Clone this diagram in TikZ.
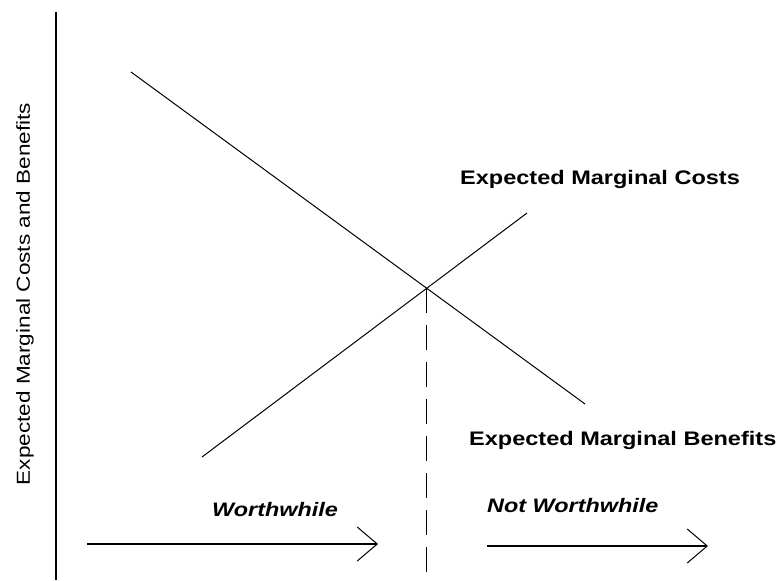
\documentclass[tikz,border=0pt]{standalone}
\usepackage{fontspec}
\usepackage{tikz}
\usetikzlibrary{arrows.meta}
\usetikzlibrary{positioning}
\newfontfamily\widesans[FakeStretch=1.2]{Liberation Sans}

\begin{document}
\begin{tikzpicture}[x=1pt,y=-1pt,
        curve/.style={line width=1pt},
        curvename/.style={inner sep=0pt,font=\widesans\fontsize{19.6}{23}\selectfont\bfseries},
        regionname/.style={inner sep=0pt,font=\widesans\fontsize{19.5}{23}\selectfont\bfseries\itshape},
        spanarrow/.style={line width=1.6pt,-{Straight Barb[length=20pt,width=34pt,line width=1pt]}}]
        \useasboundingbox (0,0) rectangle (783,580);
        % axis
        \coordinate (top) at (56,12);
        \coordinate (bottom) at (56,580);
        \draw[line width=2pt] (top) -- (bottom);
        \node[inner sep=0pt,rotate=90,font=\widesans\fontsize{18.8}{22}\selectfont] (ylabel) at (25,294) {Expected Marginal Costs and Benefits};
        % curves
        \coordinate (mbstart) at (131,72);
        \coordinate (mbend) at (585,404);
        \coordinate (mcstart) at (202,457);
        \coordinate (mcend) at (527,213);
        \draw[curve] (mbstart) -- (mbend);
        \draw[curve] (mcstart) -- (mcend);
        \coordinate (eq) at (intersection of mbstart--mbend and mcstart--mcend);
        \draw[curve,dash pattern=on 25pt off 12pt] (eq) -- (eq |- bottom);
        \node[curvename,anchor=base west] (mclabel) at (460,184) {Expected Marginal Costs};
        \node[curvename,anchor=base west] (mblabel) at (469,445) {Expected Marginal Benefits};
        % worthwhile or not
        \node[regionname,anchor=base west] (yes) at (212,516) {Worthwhile};
        \node[regionname,anchor=base west] (no) at (487,512) {Not Worthwhile};
        \coordinate (yesstart) at (87,544);
        \coordinate (yesend) at (378,544);
        \coordinate (nostart) at (487,546);
        \coordinate (noend) at (708,546);
        \draw[spanarrow] (yesstart) -- (yesend);
        \draw[spanarrow] (nostart) -- (noend);
    \end{tikzpicture}
\end{document}
